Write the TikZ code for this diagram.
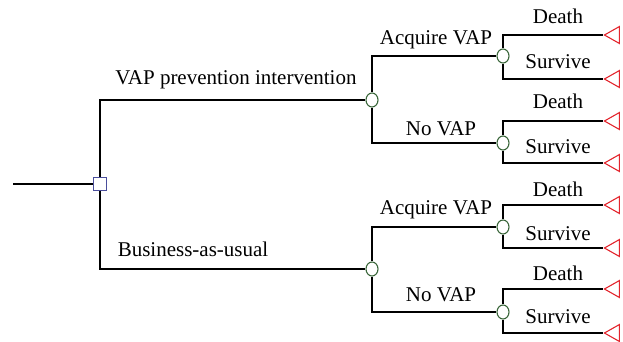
\documentclass[tikz,border=0pt]{standalone}
\usepackage{fontspec}
\setmainfont{Liberation Serif}
\usetikzlibrary{shapes.geometric}

\definecolor{decblue}{HTML}{4A4E9C}
\definecolor{chgreen}{HTML}{3A663A}
\definecolor{endred}{HTML}{E3262E}

\begin{document}
\begin{tikzpicture}[x=1pt, y=-1pt, line width=1.3pt, every node/.style={font=\fontsize{21}{25}\selectfont}, decision/.style={draw=decblue,fill=white,rectangle,inner sep=0pt,minimum size=13pt,line width=1.1pt}, chance/.style={draw=chgreen,fill=white,ellipse,inner sep=0pt,minimum width=12pt,minimum height=14pt,line width=1.1pt}, terminal/.style={draw=endred,isosceles triangle,shape border rotate=180,isosceles triangle stretches,inner sep=0pt,minimum width=17pt,minimum height=15pt,anchor=apex,line width=1.1pt}, lbl/.style={anchor=base,inner sep=0pt}]
\useasboundingbox (0,0) rectangle (623,341);
\coordinate (start) at (13,184);
\node[decision] (dec) at (100,184) {};
\node[chance] (int) at (372,100) {};
\node[chance] (bau) at (372,269) {};
\node[chance] (intvap) at (503,56) {};
\node[chance] (intnovap) at (503,143) {};
\node[chance] (bauvap) at (503,227) {};
\node[chance] (baunovap) at (503,312) {};
\node[terminal] (end1) at (603,35) {};
\node[terminal] (end2) at (603,79) {};
\node[terminal] (end3) at (603,121) {};
\node[terminal] (end4) at (603,163) {};
\node[terminal] (end5) at (603,205) {};
\node[terminal] (end6) at (603,248) {};
\node[terminal] (end7) at (603,289) {};
\node[terminal] (end8) at (603,333) {};
% branch labels
\node[lbl] (lint) at (236,84) {VAP prevention intervention};
\node[lbl] (lbau) at (193,256) {Business-as-usual};
\node[lbl] (lintvap) at (436,44) {Acquire VAP};
\node[lbl] (lintnovap) at (441,135) {No VAP};
\node[lbl] (lbauvap) at (436,214) {Acquire VAP};
\node[lbl] (lbaunovap) at (441,301) {No VAP};
\node[lbl] (ld1) at (558,23) {Death};
\node[lbl] (ls1) at (558,68) {Survive};
\node[lbl] (ld2) at (558,108) {Death};
\node[lbl] (ls2) at (558,153) {Survive};
\node[lbl] (ld3) at (558,196) {Death};
\node[lbl] (ls3) at (558,240) {Survive};
\node[lbl] (ld4) at (558,280) {Death};
\node[lbl] (ls4) at (558,323) {Survive};
\draw (start)--(dec); \draw (dec)|-(int); \draw (dec)|-(bau);
\draw (int)|-(intvap); \draw (int)|-(intnovap); \draw (bau)|-(bauvap); \draw (bau)|-(baunovap);
\draw (intvap)|-(end1); \draw (intvap)|-(end2); \draw (intnovap)|-(end3); \draw (intnovap)|-(end4);
\draw (bauvap)|-(end5); \draw (bauvap)|-(end6); \draw (baunovap)|-(end7); \draw (baunovap)|-(end8);
\end{tikzpicture}
\end{document}
